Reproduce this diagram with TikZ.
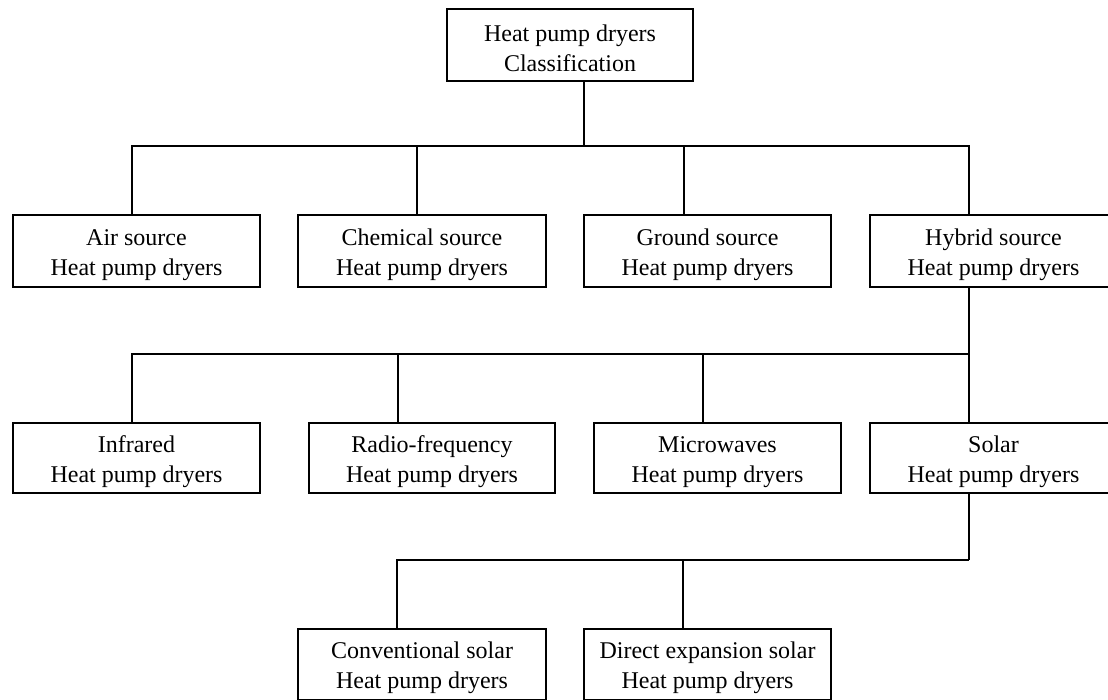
\documentclass[tikz,border=0pt]{standalone}
\usepackage{fontspec}
\setmainfont{Liberation Serif}
\newcommand\lowstrut{\rule{0pt}{24pt}}
\begin{document}
\begin{tikzpicture}[x=1pt,y=-1pt,
  box/.style={draw=black, line width=1.2pt, align=center, inner sep=0pt,
    font=\fontsize{24}{30}\selectfont, text=black},
  conn/.style={draw=black, line width=1.2pt}]
\path[use as bounding box, clip] (0,0) rectangle (1108,699);
\fill[white] (0,0) rectangle (1108,699);

% nodes
\node[box, minimum width=246pt, minimum height=72pt] (top) at (570,45) {\lowstrut Heat pump dryers\\Classification};

\node[box, minimum width=247pt, minimum height=72pt] (air) at (136.5,251) {\lowstrut Air source\\Heat pump dryers};
\node[box, minimum width=248pt, minimum height=72pt] (chem) at (422,251) {\lowstrut Chemical source\\Heat pump dryers};
\node[box, minimum width=247pt, minimum height=72pt] (ground) at (707.5,251) {\lowstrut Ground source\\Heat pump dryers};
\node[box, minimum width=247pt, minimum height=72pt] (hybrid) at (993.5,251) {\lowstrut Hybrid source\\Heat pump dryers};

\node[box, minimum width=247pt, minimum height=70pt] (infra) at (136.5,458) {\lowstrut Infrared\\Heat pump dryers};
\node[box, minimum width=246pt, minimum height=70pt] (radio) at (432,458) {\lowstrut Radio-frequency\\Heat pump dryers};
\node[box, minimum width=247pt, minimum height=70pt] (micro) at (717.5,458) {\lowstrut Microwaves\\Heat pump dryers};
\node[box, minimum width=247pt, minimum height=70pt] (solar) at (993.5,458) {\lowstrut Solar\\Heat pump dryers};

\node[box, minimum width=248pt, minimum height=71pt] (conv) at (422,664.5) {\lowstrut Conventional solar\\Heat pump dryers};
\node[box, minimum width=247pt, minimum height=71pt] (direct) at (707.5,664.5) {\lowstrut Direct expansion solar\\Heat pump dryers};

% bus junctions
\coordinate (j0) at (584,146);
\coordinate (j0l) at (132,146);
\coordinate (j0r) at (969,146);
\coordinate (j0c) at (417,146);
\coordinate (j0g) at (684,146);

\coordinate (j1l) at (132,354);
\coordinate (j1r) at (969,354);
\coordinate (j1a) at (398,354);
\coordinate (j1b) at (703,354);

\coordinate (j2l) at (397,560);
\coordinate (j2r) at (969,560);
\coordinate (j2b) at (683,560);

% level 1
\draw[conn] (j0 |- top.south) -- (j0);
\draw[conn] (j0l |- air.north) -- (j0l) -- (j0r) -- (j0r |- hybrid.north);
\draw[conn] (j0c) -- (j0c |- chem.north);
\draw[conn] (j0g) -- (j0g |- ground.north);

% level 2
\draw[conn] (j1r |- hybrid.south) -- (j1r);
\draw[conn] (j1l |- infra.north) -- (j1l) -- (j1r) -- (j1r |- solar.north);
\draw[conn] (j1a) -- (j1a |- radio.north);
\draw[conn] (j1b) -- (j1b |- micro.north);

% level 3
\draw[conn] (j2r |- solar.south) -- (j2r);
\draw[conn] (j2l |- conv.north) -- (j2l) -- (j2r);
\draw[conn] (j2b) -- (j2b |- direct.north);
\end{tikzpicture}
\end{document}
